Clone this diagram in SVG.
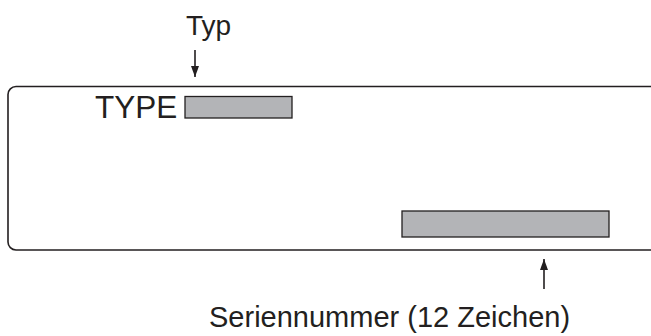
<svg xmlns="http://www.w3.org/2000/svg" width="651" height="336" viewBox="0 0 651 336">
<style>
.t{font-family:"Liberation Sans",Arial,sans-serif;fill:#231f20}
.bar{fill:#b3b4b7;stroke:#231f20;stroke-width:1.3}
.ln{stroke:#231f20;stroke-width:1.6;fill:none}
</style>
<defs>
<marker id="ah" viewBox="0 0 10 10" refX="10" refY="5" markerWidth="11" markerHeight="8" markerUnits="userSpaceOnUse" orient="auto" preserveAspectRatio="none">
<path d="M0,0 L10,5 L0,10 Z" fill="#231f20"/>
</marker>
</defs>
<rect width="651" height="336" fill="#fff"/>
<g id="label-box">
<rect x="8" y="86.5" width="650" height="163.5" rx="8" ry="8" class="ln" stroke-width="1.5"/>
<text class="t" x="95" y="118" font-size="31.5">TYPE</text>
<rect class="bar" x="185" y="96.5" width="107" height="21.5"/>
<rect class="bar" x="402" y="211" width="207" height="26"/>
</g>
<g id="typ">
<text class="t" x="186" y="35" font-size="28">Typ</text>
</g>
<g id="serial">
<text class="t" x="209" y="327" font-size="29">Seriennummer (12 Zeichen)</text>
</g>
<g id="connectors">
<line class="ln" x1="195" y1="50" x2="195" y2="77" marker-end="url(#ah)" stroke-width="1.8"/>
<line class="ln" x1="544" y1="289" x2="544" y2="259" marker-end="url(#ah)" stroke-width="1.8"/>
</g>
</svg>
